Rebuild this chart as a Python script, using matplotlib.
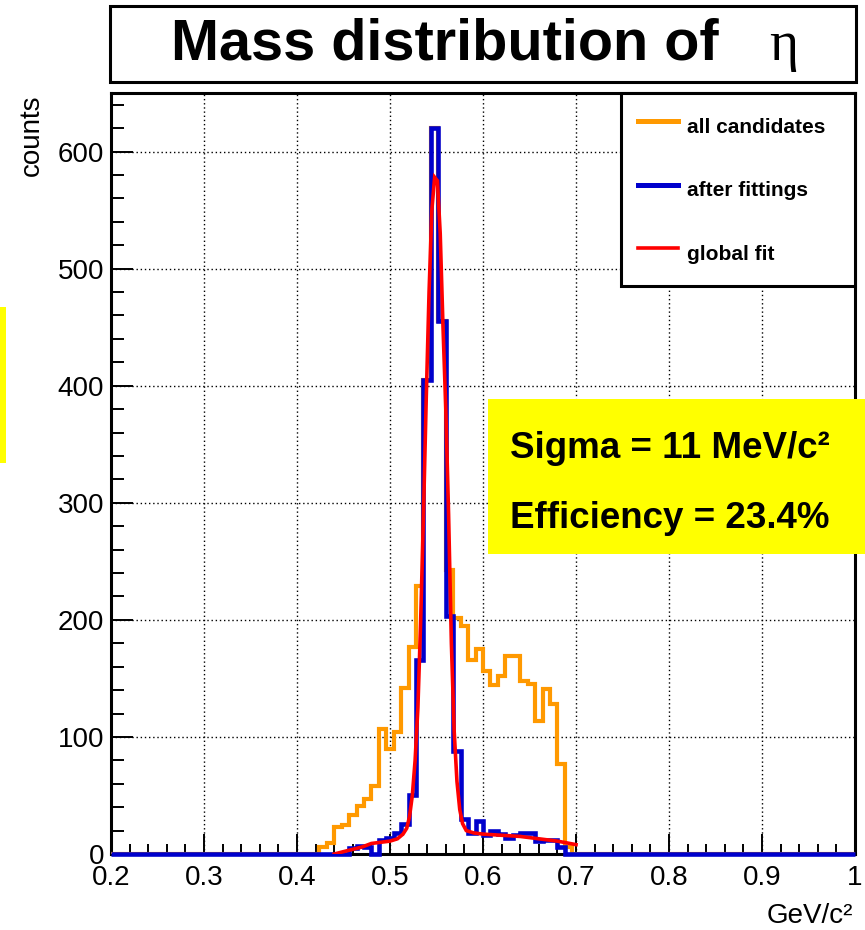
import numpy as np
import matplotlib
matplotlib.use("Agg")
import matplotlib.pyplot as plt
from matplotlib.patches import Rectangle
from matplotlib.lines import Line2D
from matplotlib.ticker import MultipleLocator

plt.rcParams['font.family'] = ['Liberation Sans', 'DejaVu Sans']

# ---------------- data ----------------
bin_edges = np.round(0.2 + 0.008 * np.arange(101), 3)   # 100 bins, 0.2 .. 1.0 GeV/c^2
first_bin = 28                                          # first listed bin starts at 0.424

all_candidates = [6, 9, 23, 25, 33, 41, 47, 58, 107, 90, 104, 142, 177, 229,
                  405, 620, 455, 243, 202, 195, 166, 175, 156, 144, 152, 169,
                  169, 148, 145, 114, 141, 128, 77, 6]
after_fittings = [0, 0, 0, 0, 5, 7, 6, 0, 12, 14, 18, 26, 50, 166,
                  405, 620, 455, 203, 88, 30, 18, 28, 16, 20, 17, 14,
                  16, 18, 18, 11, 12, 12, 6, 0]

fit_x = [0.440, 0.450, 0.460, 0.470, 0.480, 0.490, 0.500, 0.508, 0.514, 0.518,
         0.521, 0.524, 0.527, 0.530, 0.533, 0.536, 0.539, 0.542, 0.545, 0.548,
         0.551, 0.554, 0.557, 0.560, 0.563, 0.566, 0.569, 0.572, 0.575, 0.578,
         0.582, 0.590, 0.600, 0.620, 0.640, 0.660, 0.680, 0.700]
fit_y = [0, 2, 4, 6, 9, 10, 11, 13, 17, 22,
         32, 50, 80, 125, 200, 290, 390, 480, 550, 578,
         575, 530, 450, 380, 290, 180, 105, 62, 38, 26,
         20, 18, 17, 16, 15, 13, 11, 8]

series_labels = ["all candidates", "after fittings", "global fit"]
x_ticks = [0.2, 0.3, 0.4, 0.5, 0.6, 0.7, 0.8, 0.9, 1.0]
x_tick_labels = ["0.2", "0.3", "0.4", "0.5", "0.6", "0.7", "0.8", "0.9", "1"]
y_ticks = [0, 100, 200, 300, 400, 500, 600]
y_tick_labels = ["0", "100", "200", "300", "400", "500", "600"]

title_text = "Mass distribution of"
title_symbol = "η"
info_lines = ["Sigma = 11 MeV/c²", "Efficiency = 23.4%"]

# ---------------- styling ----------------
ORANGE = '#ff9900'
BLUE = '#0000cc'
RED = '#ff0000'
YELLOW = '#ffff00'

W, H = 865, 930
fig = plt.figure(figsize=(W / 100, H / 100), dpi=100)


def fx(px):
    return px / W


def fy(py):
    return 1 - py / H


ax = fig.add_axes([fx(111), fy(854), fx(855) - fx(111), fy(93) - fy(854)])

n_bins = len(bin_edges) - 1
counts_all = np.zeros(n_bins)
counts_all[first_bin:first_bin + len(all_candidates)] = all_candidates
counts_fit = np.zeros(n_bins)
counts_fit[first_bin:first_bin + len(after_fittings)] = after_fittings

ax.stairs(counts_all, bin_edges, baseline=0, color=ORANGE, lw=3.0, zorder=3)
ax.stairs(counts_fit, bin_edges, baseline=0, color=BLUE, lw=3.3, zorder=3.5,
          clip_on=False)
ax.plot(fit_x, fit_y, color=RED, lw=2.6, zorder=4, solid_joinstyle='miter')

ax.set_xlim(0.2, 1.0)
ax.set_ylim(0, 650)

ax.set_xticks(x_ticks, x_tick_labels)
ax.set_yticks(y_ticks, y_tick_labels)
ax.xaxis.set_minor_locator(MultipleLocator(0.02))
ax.yaxis.set_minor_locator(MultipleLocator(20))

ax.tick_params(axis='both', which='both', direction='in', top=False, right=False,
               color='black', width=1.4, labelsize=20)
ax.tick_params(axis='x', which='major', length=14.5, pad=8)
ax.tick_params(axis='x', which='minor', length=7)
ax.tick_params(axis='y', which='major', length=16, pad=5)
ax.tick_params(axis='y', which='minor', length=9.5)

ax.grid(True, which='major', color='black', linestyle=(0, (1, 2)), lw=1.0, zorder=1)
ax.set_axisbelow(True)

for sp in ax.spines.values():
    sp.set_linewidth(2.2)
    sp.set_color('black')

handles = [Line2D([], [], color=ORANGE, lw=3.6),
           Line2D([], [], color=BLUE, lw=3.6),
           Line2D([], [], color=RED, lw=2.6)]
lx0 = (621 - 111) / (855 - 111)
leg = ax.legend(handles, series_labels, loc='upper right',
                bbox_to_anchor=(lx0, 0, 1 - lx0, 1), mode='expand',
                borderaxespad=0, frameon=True, fancybox=False,
                edgecolor='black', facecolor='white', framealpha=1,
                prop={'weight': 'bold', 'size': 15},
                handlelength=1.92, handletextpad=0.43, handleheight=2.0,
                labelspacing=1.5, borderpad=0.82)
leg.get_frame().set_linewidth(2.2)
leg.set_zorder(6)

# title box
fig.add_artist(Rectangle((fx(110), fy(82)), fx(856) - fx(110), fy(6) - fy(82),
                         transform=fig.transFigure, fill=False,
                         edgecolor='black', lw=2.2))
fig.text(fx(171), fy(60), title_text, fontsize=41.5, fontweight='bold',
         ha='left', va='baseline')
fig.text(fx(769), fy(60), title_symbol, fontsize=40,
         family=['Liberation Serif', 'DejaVu Serif'], ha='left', va='baseline')

# axis titles
fig.text(fx(32), fy(95), "counts", rotation=90, ha='center', va='top', fontsize=20)
fig.text(fx(853), fy(923), "GeV/c²", ha='right', va='baseline', fontsize=20)

# yellow strip at left edge
fig.add_artist(Rectangle((0, fy(463)), fx(6), fy(307) - fy(463),
                         transform=fig.transFigure, facecolor=YELLOW,
                         edgecolor='none'))

# yellow info box
fig.add_artist(Rectangle((fx(488), fy(554)), 1 - fx(488), fy(399) - fy(554),
                         transform=fig.transFigure, facecolor=YELLOW,
                         edgecolor='none', zorder=5))
fig.text(fx(510), fy(458), info_lines[0], fontsize=26.5, fontweight='bold',
         ha='left', va='baseline', zorder=6)
fig.text(fx(510), fy(528), info_lines[1], fontsize=26.5, fontweight='bold',
         ha='left', va='baseline', zorder=6)

fig.savefig('out.png', dpi=100)
